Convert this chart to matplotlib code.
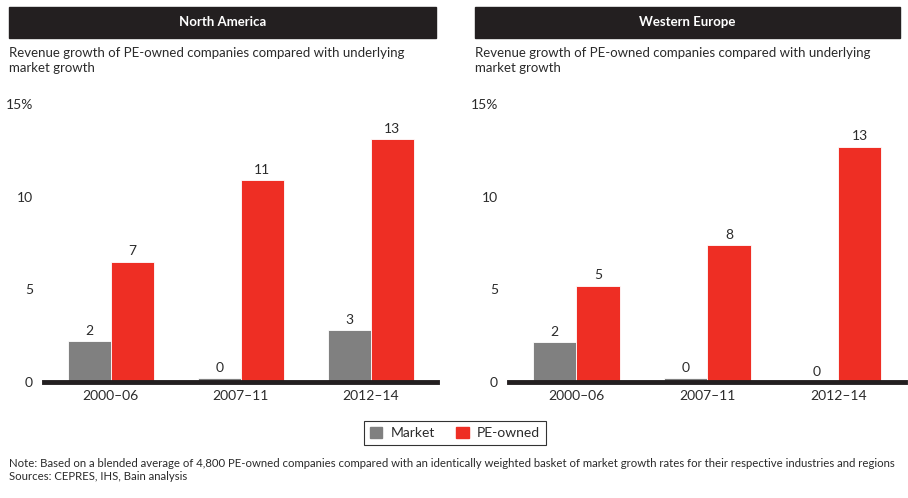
import numpy as np
import matplotlib.pyplot as plt
from matplotlib.patches import Rectangle, Patch

plt.rcParams['font.family'] = ['Lato', 'DejaVu Sans']

periods = ['2000–06', '2007–11', '2012–14']
regions = ['North America', 'Western Europe']

# bar heights, labels are the rounded values
na_market = [2.2, 0.2, 2.8]
na_pe = [6.5, 10.9, 13.1]
na_market_lbl = ['2', '0', '3']
na_pe_lbl = ['7', '11', '13']

we_market = [2.15, 0.2, 0.0]
we_pe = [5.2, 7.4, 12.7]
we_market_lbl = ['2', '0', '0']
we_pe_lbl = ['5', '8', '13']

yticks = [0, 5, 10, 15]
ytick_lbl = ['0', '5', '10', '15%']

subtitle = 'Revenue growth of PE-owned companies compared with underlying\nmarket growth'
note = ('Note: Based on a blended average of 4,800 PE-owned companies compared with an identically '
        'weighted basket of market growth rates for their respective industries and regions\n'
        'Sources: CEPRES, IHS, Bain analysis')

GREY = '#808080'
RED = '#ee2e24'
DARK = '#231f20'
TXT = '#2b2b2b'

W, H = 908, 498
fig = plt.figure(figsize=(W / 100, H / 100), dpi=100)


def px(x0, y0, x1, y1):
    # pixel box (top-left origin) -> figure fraction rect
    return [x0 / W, 1 - y1 / H, (x1 - x0) / W, (y1 - y0) / H]


panels = [
    (regions[0], na_market, na_pe, na_market_lbl, na_pe_lbl, 9, 436, 44, 437),
    (regions[1], we_market, we_pe, we_market_lbl, we_pe_lbl, 475, 900, 509, 905),
]

bw = 0.33
for name, mk, pe, mk_l, pe_l, hx0, hx1, ax0, ax1 in panels:
    # header bar
    fig.patches.append(Rectangle((hx0 / W, 1 - 38 / H), (hx1 - hx0) / W, 31 / H,
                                 transform=fig.transFigure, color=DARK, zorder=0))
    fig.text((hx0 + hx1) / 2 / W, 1 - 22.5 / H, name, color='white', fontsize=9.5,
             fontweight='bold', ha='center', va='center')
    fig.text(hx0 / W, 1 - 47 / H, subtitle, color=TXT, fontsize=9.5, ha='left', va='top',
             linespacing=1.25)

    ax = fig.add_axes(px(ax0, 104, ax1, 382))
    x = np.arange(len(periods))
    b1 = ax.bar(x - bw / 2, mk, bw, color=GREY, edgecolor='white', linewidth=0.6)
    b2 = ax.bar(x + bw / 2, pe, bw, color=RED, edgecolor='white', linewidth=0.6)
    for bars, labels in ((b1, mk_l), (b2, pe_l)):
        for b, t in zip(bars, labels):
            ax.annotate(t, (b.get_x() + b.get_width() / 2, b.get_height()),
                        xytext=(0, 3), textcoords='offset points',
                        ha='center', va='bottom', fontsize=10, color=TXT)
    ax.axhline(0, color=DARK, lw=3.5, zorder=5, clip_on=False)
    ax.set_xlim(-0.515, 2.51)
    ax.set_ylim(0, 15)
    ax.set_yticks(yticks)
    ax.set_yticklabels(ytick_lbl, fontsize=10, color=TXT)
    ax.set_xticks(x)
    ax.set_xticklabels(periods, fontsize=10, color=TXT)
    ax.tick_params(length=0, pad=8)
    ax.tick_params(axis='x', pad=6)
    for s in ax.spines.values():
        s.set_visible(False)

handles = [Patch(color=GREY, label='Market'), Patch(color=RED, label='PE-owned')]
fig.legend(handles=handles, loc='center', bbox_to_anchor=(455 / W, 1 - 433 / H), ncol=2,
           frameon=True, fancybox=False, edgecolor='black', fontsize=10,
           handlelength=0.9, handleheight=0.9, columnspacing=1.5, handletextpad=0.6,
           borderpad=0.4, borderaxespad=0, labelcolor=TXT).get_frame().set_linewidth(0.8)

fig.text(9 / W, 1 - 458 / H, note, fontsize=8.2, color=TXT, ha='left', va='top', linespacing=1.25)

fig.savefig('out.png', dpi=100)
